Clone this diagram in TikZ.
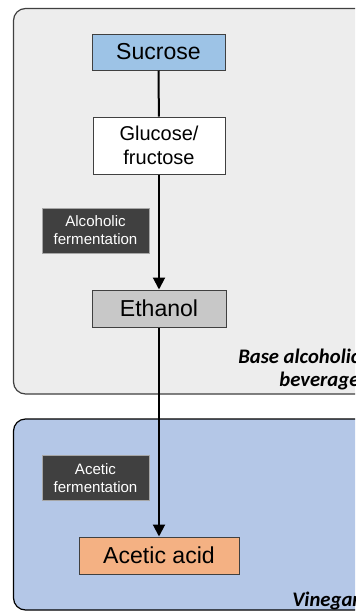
\documentclass[tikz,border=0pt]{standalone}
\usepackage{fontspec}
\setmainfont{Liberation Sans}
\newfontfamily\carlito{Carlito}
\usetikzlibrary{arrows.meta}
\definecolor{panelgray}{HTML}{EDEDED}
\definecolor{panelblue}{HTML}{B4C7E7}
\definecolor{boxblue}{HTML}{9DC3E6}
\definecolor{boxgray}{HTML}{C8C8C8}
\definecolor{boxorange}{HTML}{F4B183}
\definecolor{labeldark}{HTML}{404040}
\definecolor{edgegray}{HTML}{404040}
\begin{document}
\begin{tikzpicture}[x=0.75pt,y=-0.75pt,
  panel/.style={draw=edgegray, line width=0.9pt, rounded corners=9pt},
  stepbox/.style={draw=edgegray, line width=0.75pt, inner sep=0pt, align=center, font=\fontsize{17.3}{19}\selectfont},
  proclabel/.style={fill=labeldark, draw=gray!70, line width=0.4pt, text=white, inner sep=0pt, align=center,
     minimum width=80.25pt, minimum height=33.5pt, font=\fontsize{11.3}{13.5}\selectfont},
  panellabel/.style={font=\carlito\bfseries\itshape\fontsize{15.5}{17.3}\selectfont, inner sep=0pt, align=right},
  flow/.style={line width=1.5pt, -{Triangle[length=9pt,width=9pt]}}
]
\useasboundingbox (0,0) rectangle (355,611);
\clip (0,0) rectangle (355,611);
% panels
\path[panel, fill=panelgray] (13.5,8.5) rectangle (400,394);
\path[panel, fill=panelblue, draw=black] (13.5,419) rectangle (400,610);
% boxes
\node[stepbox, fill=boxblue, minimum width=99.75pt, minimum height=27pt] (suc) at (158.5,52) {Sucrose};
\node[stepbox, fill=white, minimum width=99pt, minimum height=42.75pt, font=\fontsize{15}{18}\selectfont] (glu) at (159,145.5) {Glucose/\\fructose};
\node[stepbox, fill=boxgray, minimum width=100.5pt, minimum height=27.75pt] (eth) at (159,308.5) {Ethanol};
\node[stepbox, fill=boxorange, minimum width=120pt, minimum height=27.75pt] (ace) at (159,555.5) {Acetic acid};
% process labels
\node[proclabel] (alc) at (95.5,230.5) {Alcoholic\\fermentation};
\node[proclabel] (acf) at (95.5,478) {Acetic\\fermentation};
% panel titles
\node[panellabel, anchor=north west] (base) at (238,349) {Base alcoholic\\beverage};
\node[panellabel, anchor=north west] (vin) at (292,592) {Vinegar};
% connectors
\draw[line width=1.5pt] (suc) -- (glu);
\draw[flow] (glu) -- (eth);
\draw[flow] (eth) -- (ace);
\end{tikzpicture}
\end{document}
